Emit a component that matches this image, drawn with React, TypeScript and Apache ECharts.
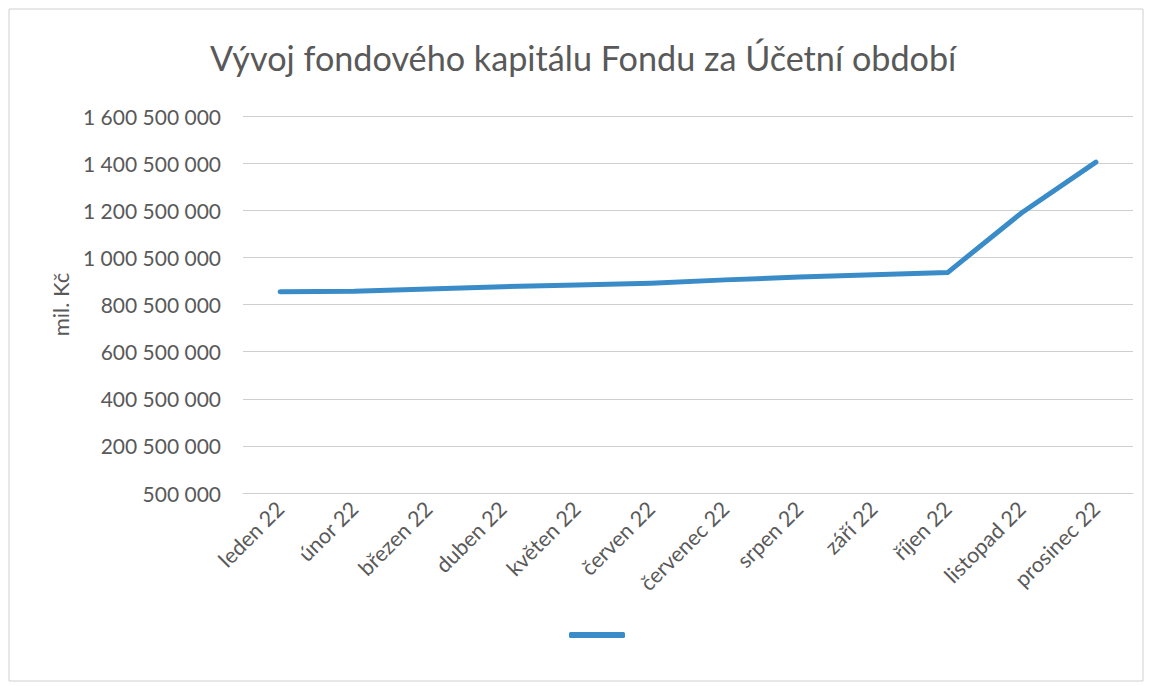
import React, { useEffect, useRef } from "react";
import * as echarts from "echarts";

const categories = [
  "leden 22", "únor 22", "březen 22", "duben 22", "květen 22", "červen 22",
  "červenec 22", "srpen 22", "září 22", "říjen 22", "listopad 22", "prosinec 22",
];
const capitalValues = [
  855000000, 857000000, 866000000, 876000000, 883000000, 891000000,
  905000000, 917000000, 927000000, 936000000, 1190000000, 1405000000,
];
const yMin = 500000;
const yMax = 1600500000;
const yInterval = 200000000;

const titleText = "Vývoj fondového kapitálu Fondu za Účetní období";
const yAxisName = "mil. Kč";

const fmt = (v: number) => String(Math.round(v)).replace(/\B(?=(\d{3})+(?!\d))/g, " ");

export default function App() {
  const ref = useRef<HTMLDivElement>(null);
  useEffect(() => {
    if (!ref.current) return;
    const chart = echarts.init(ref.current, undefined, { renderer: "svg" });
    const font = "Lato, 'Noto Sans', sans-serif";
    chart.setOption({
      animation: false,
      backgroundColor: "#ffffff",
      textStyle: { fontFamily: font },
      title: {
        text: titleText,
        left: 205,
        top: 35,
        textStyle: { fontFamily: font, fontSize: 34.2, fontWeight: "normal", color: "#595959" },
      },
      graphic: [
        {
          type: "rect",
          shape: { x: 9, y: 9, width: 1134, height: 672 },
          style: { fill: "none", stroke: "#d0d0d0", lineWidth: 1 },
          silent: true,
        },
      ],
      legend: {
        left: 564,
        top: 627,
        itemWidth: 56,
        itemHeight: 6,
        itemGap: 0,
        data: [{ name: " ", icon: "roundRect" }],
        textStyle: { fontSize: 1, color: "transparent" },
        formatter: () => "",
      },
      grid: { left: 243, right: 17, top: 116, bottom: 193, containLabel: false },
      xAxis: {
        type: "category",
        data: categories,
        boundaryGap: true,
        axisLine: { show: true, lineStyle: { color: "#cfcfcf", width: 1 } },
        axisTick: { show: false },
        axisLabel: {
          rotate: 45,
          interval: 0,
          fontSize: 21.5,
          color: "#595959",
          fontFamily: font,
          margin: 12,
        },
      },
      yAxis: {
        type: "value",
        min: yMin,
        max: yMax,
        interval: yInterval,
        name: yAxisName,
        nameLocation: "middle",
        nameGap: 172,
        nameRotate: 90,
        nameTextStyle: { fontSize: 22, color: "#595959", fontFamily: font },
        axisLine: { show: false },
        axisTick: { show: false },
        axisLabel: {
          formatter: (v: number) => fmt(v),
          fontSize: 21,
          color: "#595959",
          fontFamily: font,
          margin: 22,
        },
        splitLine: { show: true, lineStyle: { color: "#cfcfcf", width: 1 } },
      },
      series: [
        {
          name: " ",
          type: "line",
          data: capitalValues,
          showSymbol: false,
          symbol: "none",
          lineStyle: { color: "#3a8cc8", width: 5, cap: "round", join: "round" },
          itemStyle: { color: "#3a8cc8" },
        },
      ],
    });
    return () => chart.dispose();
  }, []);
  return (
    <div
      ref={ref}
      style={{ position: "fixed", left: 0, top: 0, width: 1150, height: 686 }}
    />
  );
}
